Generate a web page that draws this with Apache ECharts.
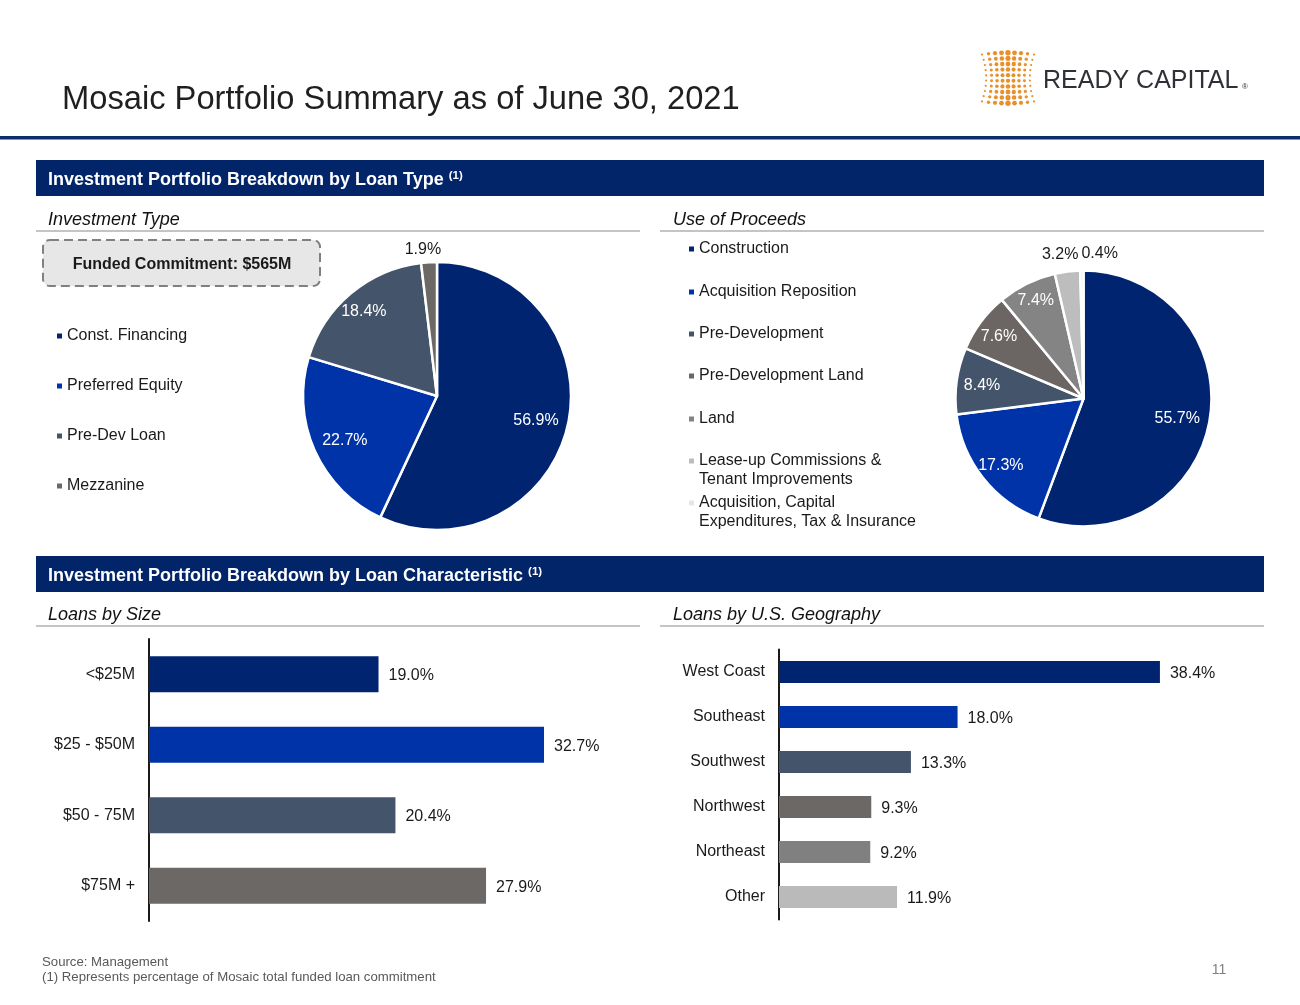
<!DOCTYPE html>
<html><head><meta charset="utf-8">
<script src="https://cdn.jsdelivr.net/npm/echarts@6/dist/echarts.min.js"></script>
<style>html,body{margin:0;padding:0;background:#fff}#c{width:1300px;height:1005px}</style>
</head><body><div id="c"></div>
<script>
// ---------- data ----------
const investmentTypes = ['Const. Financing', 'Preferred Equity', 'Pre-Dev Loan', 'Mezzanine'];
const investmentValues = [56.9, 22.7, 18.4, 1.9];
const proceedsTypes = ['Construction', 'Acquisition Reposition', 'Pre-Development', 'Pre-Development Land', 'Land',
  'Lease-up Commissions &\nTenant Improvements', 'Acquisition, Capital\nExpenditures, Tax & Insurance'];
const proceedsValues = [55.7, 17.3, 8.4, 7.6, 7.4, 3.2, 0.4];
const sizeCats = ['<$25M', '$25 - $50M', '$50 - 75M', '$75M +'];
const sizeValues = [19.0, 32.7, 20.4, 27.9];
const geoCats = ['West Coast', 'Southeast', 'Southwest', 'Northwest', 'Northeast', 'Other'];
const geoValues = [38.4, 18.0, 13.3, 9.3, 9.2, 11.9];

// ---------- styles ----------
const FONT = "'Liberation Sans', Arial, sans-serif";
const TXT = '#1a1a1a';
const NAVY = '#022469';
const investColors = ['#002470', '#0033A8', '#44546A', '#6C6866'];
const proceedsColors = ['#002470', '#0033A8', '#44546A', '#6B6663', '#848484', '#BDBDBD', '#E6E6E6'];
const sizeColors = ['#002470', '#0033A8', '#44546A', '#6C6866'];
const geoColors = ['#002470', '#0033A8', '#44546A', '#6C6866', '#808080', '#BABABA'];

const pct = p => Number(p.value).toFixed(1) + '%';

function piePair(names, values, colors, center, r, innerFrac, outsideIdx, nudges) {
  const main = {
    type: 'pie', center: center, radius: [0, r], startAngle: 90, clockwise: true,
    silent: true, animation: false,
    label: { show: false }, labelLine: { show: false },
    itemStyle: { borderColor: '#fff', borderWidth: 2.5 },
    data: names.map((n, i) => ({ name: n, value: values[i], itemStyle: { color: colors[i] } }))
  };
  const overlay = {
    type: 'pie', center: center, radius: [r * innerFrac, r], startAngle: 90, clockwise: true,
    silent: true, animation: false, avoidLabelOverlap: false,
    itemStyle: { color: 'rgba(0,0,0,0)', borderWidth: 0 },
    label: { show: true, position: 'inside', color: '#fff', fontSize: 16, fontFamily: FONT, formatter: pct },
    labelLine: { show: false, length: 18, length2: 0 },
    labelLayout: function (p) {
      const o = { align: 'center' };
      const nd = nudges[p.dataIndex];
      if (nd) { o.dx = nd[0]; o.dy = nd[1]; }
      return o;
    },
    data: names.map((n, i) => {
      const d = { name: n, value: values[i] };
      if (outsideIdx.indexOf(i) >= 0) d.label = { position: 'outside', color: TXT };
      return d;
    })
  };
  return [main, overlay];
}

function makeLegend(name, left, cy) {
  return {
    show: true, orient: 'vertical', left: left, top: cy - 7.5,
    padding: 0, itemGap: 0, itemWidth: 5, itemHeight: 5, icon: 'rect', selectedMode: false,
    itemStyle: { borderWidth: 0 },
    data: [name],
    formatter: function (n) { return n.split('\n')[0]; },
    textStyle: { fontSize: 16, color: TXT, fontFamily: FONT, lineHeight: 19 }
  };
}

const investLegendY = [334, 384, 434, 484];
const proceedsLegendY = [247, 290, 332, 374, 417, 459, 501];
const legends = [];
investmentTypes.forEach((n, i) => legends.push(makeLegend(n, 57, investLegendY[i])));
proceedsTypes.forEach((n, i) => legends.push(makeLegend(n, 689, proceedsLegendY[i])));

// ---------- graphic (decoration / headers) ----------
const g = [];
// continuation lines of two-line legend entries
proceedsTypes.forEach((n, i) => {
  const parts = n.split('\n');
  if (parts.length > 1) {
    g.push({ type: 'text', x: 699, y: proceedsLegendY[i] + 19 + 2, silent: true,
      style: { text: parts.slice(1).join('\n'), fontSize: 16, fontFamily: FONT, fill: TXT, verticalAlign: 'middle' } });
  }
});
// title
g.push({ type: 'text', x: 62, y: 100, silent: true,
  style: { text: 'Mosaic Portfolio Summary as of June 30, 2021', fontSize: 32.7, fontFamily: FONT, fill: '#1f1f1f', verticalAlign: 'middle' } });
g.push({ type: 'rect', silent: true, shape: { x: 0, y: 136, width: 1300, height: 3.5 }, style: { fill: '#0E2B6D' } });
// logo
for (let j = 0; j < 10; j++) {
  for (let i = 0; i < 9; i++) {
    const u = (i - 4) / 4, v = (j - 4.5) / 4.5;
    const x = 1008 + (i - 4) * 6.5 * (0.84 + 0.16 * v * v);
    const y = 78 + (j - 4.5) * 5.2 * (1 + 0.08 * (1 - u * u));
    const rr = 1.1 + 1.6 * Math.pow(1 - Math.abs(u), 0.7) * (0.6 + 0.4 * Math.abs(v));
    g.push({ type: 'circle', silent: true, shape: { cx: x, cy: y, r: rr }, style: { fill: '#E8902C' } });
  }
}
g.push({ type: 'text', x: 1043, y: 81, silent: true,
  style: { text: 'READY CAPITAL', fontSize: 25, fontFamily: FONT, fill: '#2E3136', verticalAlign: 'middle' } });
g.push({ type: 'text', x: 1245, y: 87, silent: true,
  style: { text: '®', fontSize: 8, fontFamily: FONT, fill: '#2E3136', align: 'center', verticalAlign: 'middle' } });

// section header bars
function headerBar(y, title) {
  g.push({ type: 'rect', silent: true, shape: { x: 36, y: y, width: 1228, height: 36 }, style: { fill: NAVY } });
  g.push({ type: 'text', x: 48, y: y + 20, silent: true,
    style: { text: '{a|' + title + '} {s|(1)}', fontSize: 18, fontWeight: 'bold', fontFamily: FONT, fill: '#fff', verticalAlign: 'middle',
      rich: { a: { fontSize: 18, fontWeight: 'bold', fontFamily: FONT, fill: '#fff' },
              s: { fontSize: 11.5, fontWeight: 'bold', fontFamily: FONT, fill: '#fff', padding: [0, 0, 9, 0] } } } });
}
headerBar(160, 'Investment Portfolio Breakdown by Loan Type');
headerBar(556, 'Investment Portfolio Breakdown by Loan Characteristic');

function subHeader(x, y, lineX, lineY, text) {
  g.push({ type: 'text', x: x, y: y, silent: true,
    style: { text: text, fontSize: 18, fontStyle: 'italic', fontFamily: FONT, fill: '#111', verticalAlign: 'middle' } });
  g.push({ type: 'rect', silent: true, shape: { x: lineX, y: lineY, width: 604, height: 2 }, style: { fill: '#C4C4C4' } });
}
subHeader(48, 219.5, 36, 230, 'Investment Type');
subHeader(673, 219.5, 660, 230, 'Use of Proceeds');
subHeader(48, 614.5, 36, 625, 'Loans by Size');
subHeader(673, 614.5, 660, 625, 'Loans by U.S. Geography');

// funded commitment box
g.push({ type: 'rect', silent: true, shape: { x: 43, y: 240, width: 277, height: 46, r: 7 },
  style: { fill: '#E7E7E7', stroke: '#808080', lineWidth: 2, lineDash: [9, 5] } });
g.push({ type: 'text', x: 182, y: 264.5, silent: true,
  style: { text: 'Funded Commitment: $565M', fontSize: 16, fontWeight: 'bold', fontFamily: FONT, fill: TXT, align: 'center', verticalAlign: 'middle' } });

// footer
g.push({ type: 'text', x: 42, y: 962, silent: true,
  style: { text: 'Source: Management', fontSize: 13.2, fontFamily: FONT, fill: '#595959', verticalAlign: 'middle' } });
g.push({ type: 'text', x: 42, y: 977, silent: true,
  style: { text: '(1) Represents percentage of Mosaic total funded loan commitment', fontSize: 13.2, fontFamily: FONT, fill: '#595959', verticalAlign: 'middle' } });
g.push({ type: 'text', x: 1219, y: 970, silent: true,
  style: { text: '11', fontSize: 14, fontFamily: FONT, fill: '#808080', align: 'center', verticalAlign: 'middle' } });

// ---------- chart ----------
const barLabel = { show: true, position: 'right', distance: 10, offset: [0, 1.5], fontSize: 16, color: TXT, fontFamily: FONT, formatter: pct };
const catAxis = (gi, cats) => ({
  gridIndex: gi, type: 'category', data: cats, inverse: true,
  axisLine: { show: true, lineStyle: { color: TXT, width: 2 } },
  axisTick: { show: false }, splitLine: { show: false },
  axisLabel: { fontSize: 16, color: TXT, fontFamily: FONT, margin: 14, padding: [4, 0, 0, 0] }
});

const option = {
  animation: false,
  backgroundColor: '#fff',
  textStyle: { fontFamily: FONT },
  legend: legends,
  grid: [
    { left: 149, top: 639, width: 483.2, height: 282 },
    { left: 779, top: 649.5, width: 496, height: 270 }
  ],
  xAxis: [
    { gridIndex: 0, type: 'value', min: 0, max: 40, show: false },
    { gridIndex: 1, type: 'value', min: 0, max: 50, show: false }
  ],
  yAxis: [catAxis(0, sizeCats), catAxis(1, geoCats)],
  series: [].concat(
    piePair(investmentTypes, investmentValues, investColors, [437, 396], 134, 0.56, [3],
      { 0: [-6, 1], 1: [6, 1], 2: [-4, -2], 3: [0, 5] }),
    piePair(proceedsTypes, proceedsValues, proceedsColors, [1083.5, 398.5], 128, 0.6, [5, 6],
      { 0: [-10, 1], 1: [0, 2], 2: [3, 2], 3: [0, 1], 4: [-1, -3], 5: [0, 1], 6: [23, 1] }),
    [
      { type: 'bar', xAxisIndex: 0, yAxisIndex: 0, barWidth: 36, silent: true, label: barLabel,
        data: sizeValues.map((v, i) => ({ value: v, itemStyle: { color: sizeColors[i] } })) },
      { type: 'bar', xAxisIndex: 1, yAxisIndex: 1, barWidth: 22, silent: true, label: barLabel,
        data: geoValues.map((v, i) => ({ value: v, itemStyle: { color: geoColors[i] } })) }
    ]
  ),
  graphic: { elements: g }
};

const chart = echarts.init(document.getElementById('c'), null, { renderer: 'canvas', width: 1300, height: 1005 });
chart.setOption(option);
</script>
</body></html>
